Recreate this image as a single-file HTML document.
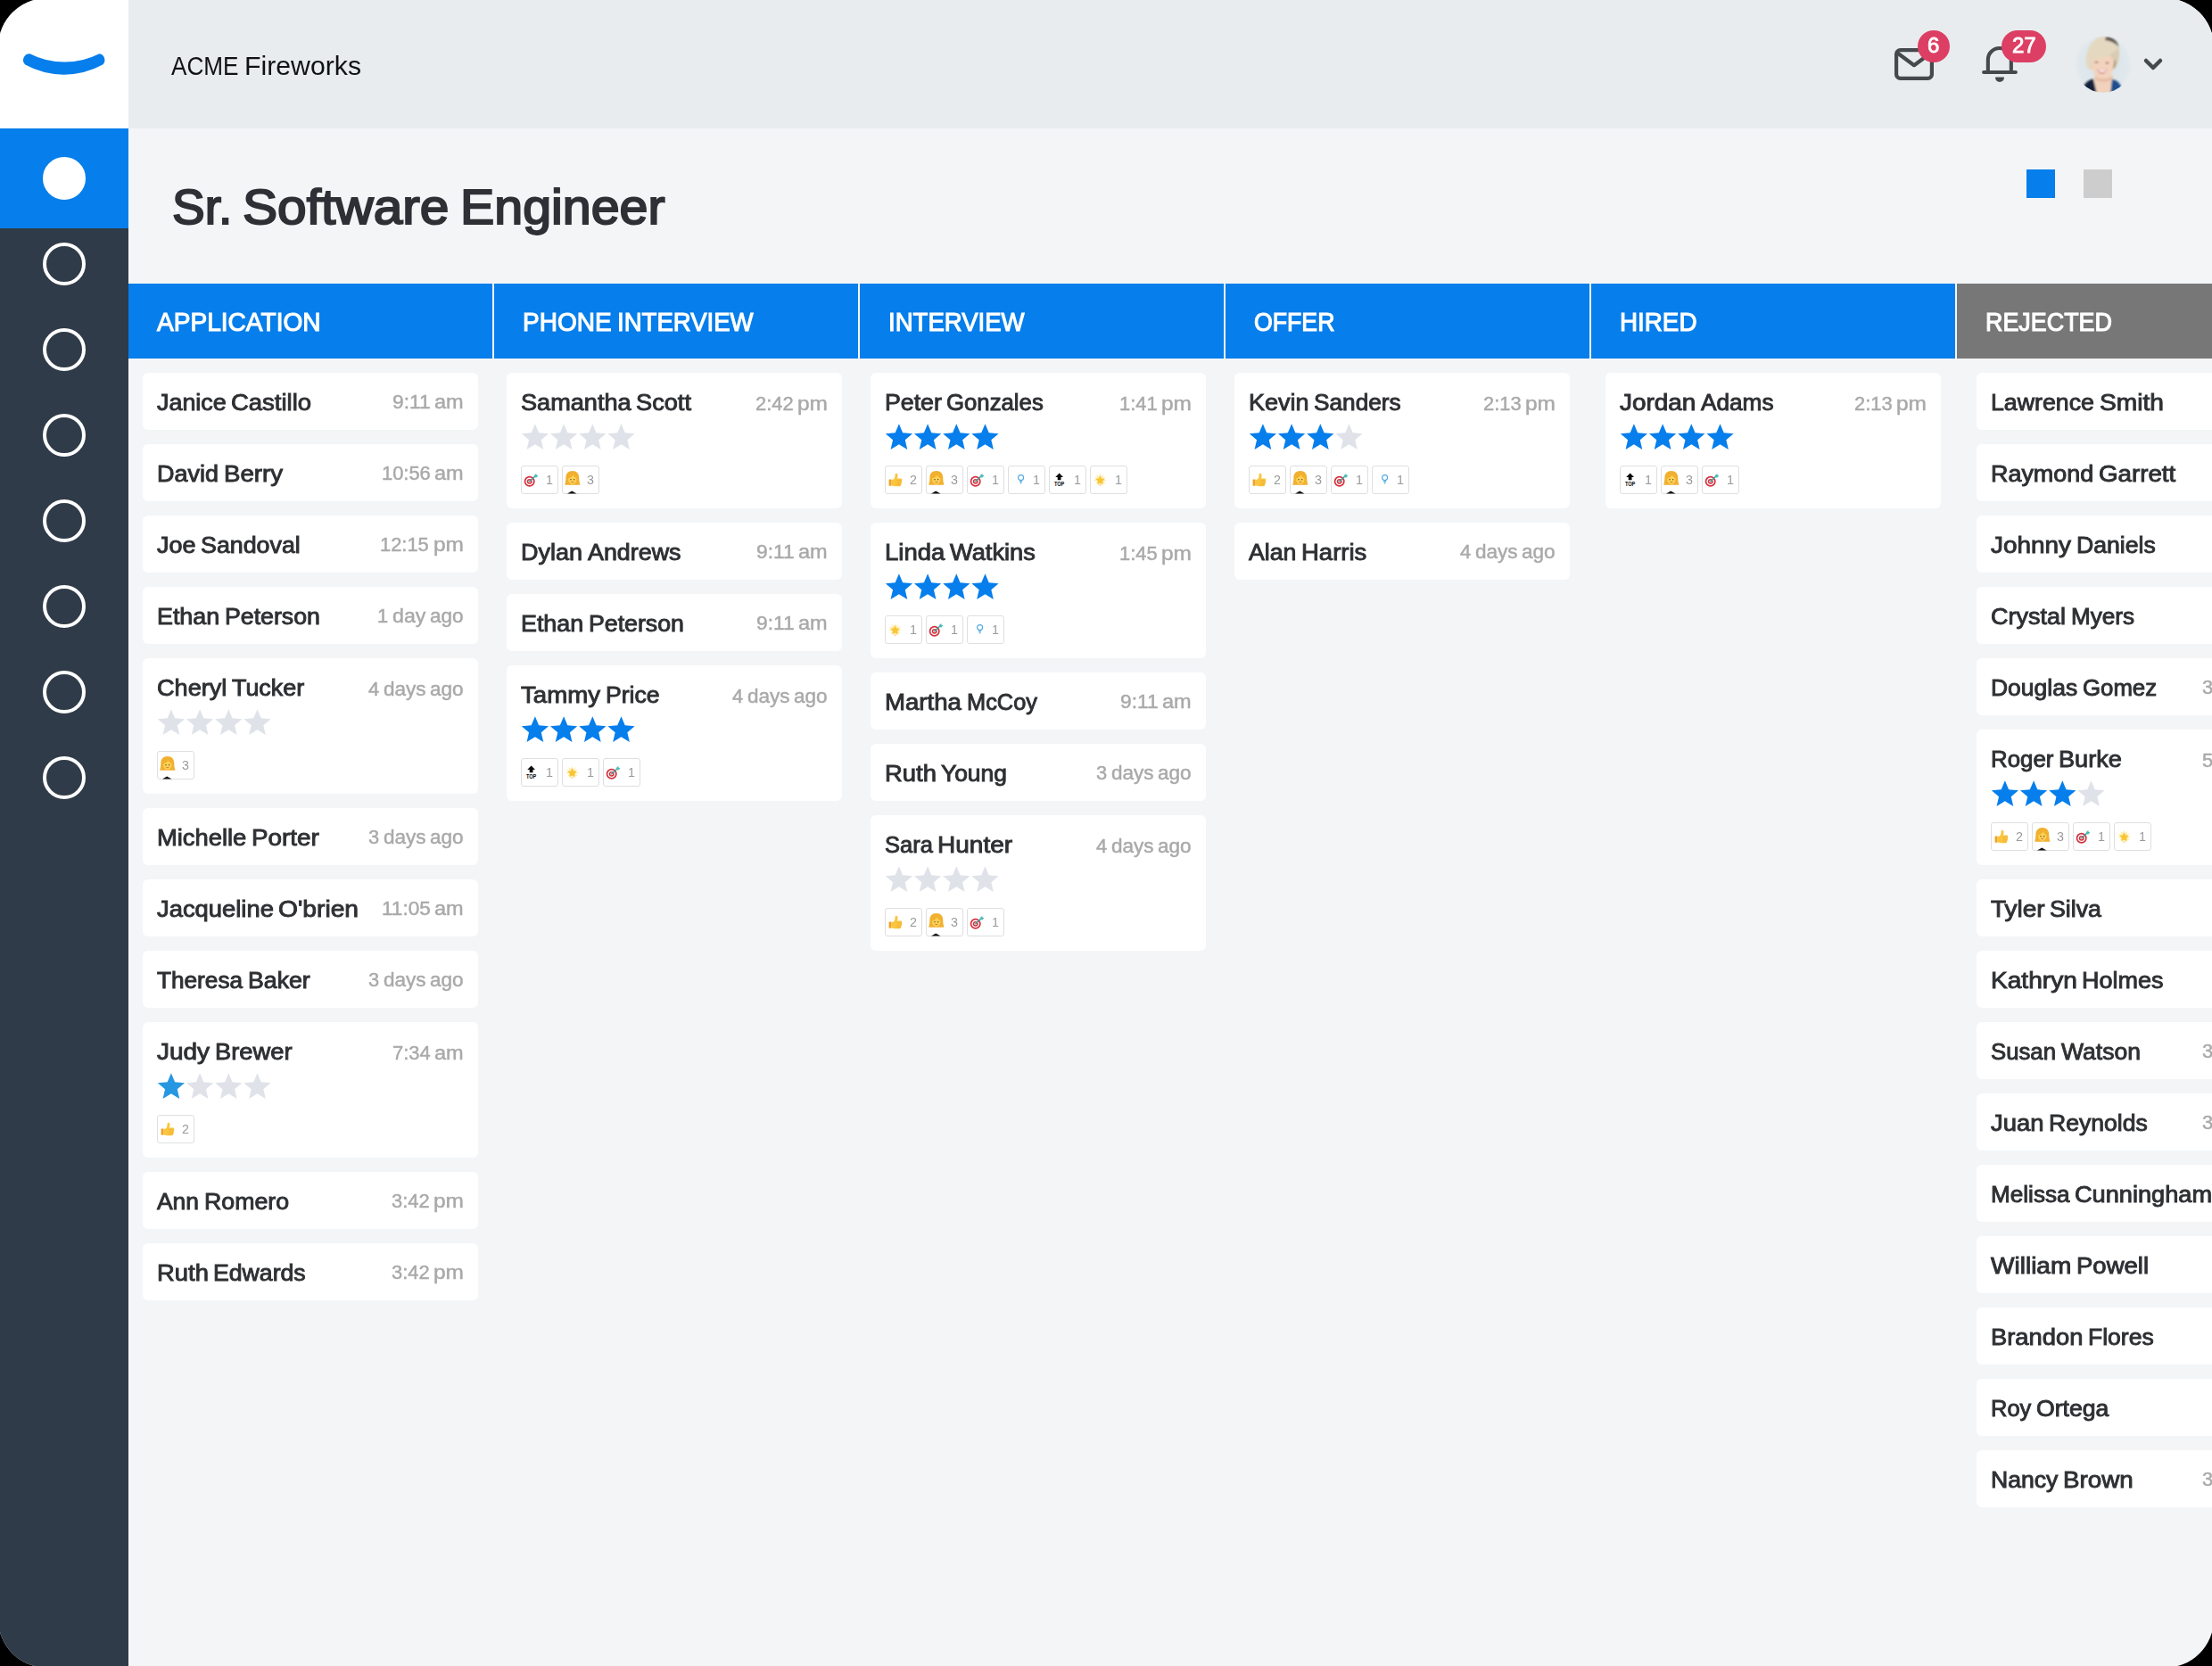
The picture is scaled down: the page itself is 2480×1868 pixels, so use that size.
<!DOCTYPE html>
<html lang="en"><head><meta charset="utf-8"><title>Sr. Software Engineer - ACME Fireworks</title>
<style>
html,body{margin:0;padding:0;background:#000;}
body{width:2480px;height:1868px;overflow:hidden;font-family:"Liberation Sans",sans-serif;}
#app{position:absolute;left:0;top:0;width:2480px;height:1868px;overflow:hidden;clip-path:inset(-2px round 54.600px);background:#f3f5f7;}
.w{display:inline-block;white-space:nowrap;text-align:left;}
.t{display:inline-block;white-space:nowrap;transform-origin:0 50%;}
#side{position:absolute;left:0;top:0;width:144px;height:1868px;background:#2f3b48;}
#logo{position:absolute;left:0;top:0;width:144px;height:144px;background:#fff;}
#side .act{position:absolute;left:0;top:144px;width:144px;height:112px;background:#067eeb;}
#side .dot{position:absolute;left:48px;width:40px;height:40px;border:4px solid #fff;border-radius:50%;}
#side .dot.on{background:#fff;}
#top{position:absolute;left:144px;top:0;width:2336px;height:144px;background:#e8ecef;}
#brand{position:absolute;left:48px;top:53.95px;font-size:29.0px;font-weight:normal;word-spacing:-1.66px;line-height:40px;color:#101216;white-space:nowrap;}
.bdg{position:absolute;top:34px;height:36px;border-radius:18px;background:#dc3f63;color:#fff;font-size:24.5px;font-weight:normal;word-spacing:-1.59px;-webkit-text-stroke:0.9px currentColor;line-height:34px;text-align:center;}
h1{position:absolute;left:193px;top:197.44px;margin:0;font-size:55.0px;font-weight:normal;word-spacing:-3.28px;-webkit-text-stroke:2.0px currentColor;line-height:70px;color:#2e3035;white-space:nowrap;}
.sq{position:absolute;top:190px;width:32px;height:32px;}
.hd{position:absolute;top:318px;height:84px;background:#067eeb;color:#fff;}
.hd div{position:absolute;left:32px;top:23.05px;font-size:29.0px;font-weight:normal;word-spacing:-1.66px;-webkit-text-stroke:1.1px currentColor;line-height:40px;white-space:nowrap;}
.c{position:absolute;width:376px;height:64px;background:#fff;border-radius:6px;}
.c.b{height:152px;}
.nm{position:absolute;left:16px;top:15.74px;font-size:25.0px;font-weight:normal;word-spacing:-1.36px;-webkit-text-stroke:0.9px currentColor;line-height:34px;color:#2e3033;white-space:nowrap;}
.tm{position:absolute;right:16px;top:17.68px;font-size:22.0px;font-weight:normal;word-spacing:-1.22px;-webkit-text-stroke:0.45px currentColor;line-height:30px;color:#a9a9a9;white-space:nowrap;}
.c.b .tm{margin-top:2px;}
.st{position:absolute;left:16px;top:56px;width:132px;height:32px;}
.tags{position:absolute;left:16px;top:104px;height:32px;}
.tg{position:absolute;top:0;width:40px;height:30px;border:1px solid #dedfe1;border-radius:3px;background:#fff;}
.tg .ic{position:absolute;left:3px;top:7px;width:16px;height:16px;}
.tg b{position:absolute;left:24px;top:4.500px;width:14px;text-align:center;font-size:15.5px;font-weight:normal;word-spacing:-1.11px;line-height:20px;color:#9a9a9a;}

</style></head><body>
<div id="app">
<div id="top"><div id="brand"><span class="w" style="width:75.47px"><span class="t" style="transform:scaleX(0.901)">ACME</span></span> <span class="w" style="width:131.09px"><span class="t" style="transform:scaleX(1.043)">Fireworks</span></span></div>
<svg style="position:absolute;left:1976px;top:50px" width="52" height="44" viewBox="0 0 52 44"><rect x="6.100" y="6.100" width="39.800" height="31.800" rx="4.500" fill="none" stroke="#45484d" stroke-width="4.200"/><path d="M7.500 9.500l18.500 13.700 18.500-13.700" fill="none" stroke="#45484d" stroke-width="4.200" stroke-linejoin="round" stroke-linecap="round"/></svg>
<div class="bdg" style="left:2006px;width:36px"><span class="w" style="width:13.37px"><span class="t" style="transform:scaleX(0.980)">6</span></span></div>
<svg style="position:absolute;left:2074px;top:48px" width="48" height="48" viewBox="0 0 48 48"><path d="M6.100 33H41.900M10.850 33V18.950A13 13 0 0 1 36.850 18.950V33" fill="none" stroke="#45484d" stroke-width="4.100" stroke-linecap="round" stroke-linejoin="round"/><path d="M19.800 38.500h8.400c.5 0 .9.400.8 1-.4 2.600-2.300 4.400-5 4.400s-4.600-1.800-5-4.400c-.1-.6.300-1 .8-1z" fill="#45484d"/></svg>
<div class="bdg" style="left:2100px;width:50px"><span class="w" style="width:26.72px"><span class="t" style="transform:scaleX(0.980)">27</span></span></div>
<svg style="position:absolute;left:2182px;top:39.5px" width="64" height="64" viewBox="0 0 64 64"><defs><clipPath id="av"><circle cx="32" cy="32" r="31.8"/></clipPath><filter id="bl" x="-10%" y="-10%" width="120%" height="120%"><feGaussianBlur stdDeviation="0.8"/></filter><radialGradient id="ag" cx="50%" cy="50%" r="50%"><stop offset="0" stop-color="#d9e5ea"/><stop offset=".85" stop-color="#dfe8ec"/><stop offset="1" stop-color="#e6ebee"/></radialGradient></defs><circle cx="32" cy="32" r="31.8" fill="url(#ag)"/><g clip-path="url(#av)"><g filter="url(#bl)"><path d="M22 44h21v23H22z" fill="#f2d2bc"/><path d="M7 66Q9 51 21 48.500L25 66z" fill="#18233d"/><path d="M40 66l2-17.500Q52 51 56 66z" fill="#1f4f90"/><path d="M14 30C12 12 22 1 34 1s17 10 16 22c-.5 6-2 11-5 14H19c-3-1-4.500-3-5-7z" fill="#d9ccb2"/><ellipse cx="31.500" cy="33" rx="12.500" ry="14.500" fill="#f3d3bd"/><path d="M23 46q9 5 19 0l.5 3q-10 6-20 0z" fill="#e6bca6"/><path d="M48 15C41 22 29 26.500 20 27.500c-1.500 4-2 8-2.500 11.500C13 37 12 29 13 23 15 9 24 1 34 1c9 0 15 6 14 14z" fill="#e4d9c0"/><path d="M35 1.500c7-.5 13 4 14.500 11C45 8 40 5.500 34 5z" fill="#5e564d"/><path d="M45.500 26c1 4 0 9-2.500 12 .8-4 1.200-8 2.500-12z" fill="#8a765e"/><ellipse cx="24.500" cy="29.800" rx="2.200" ry=".8" fill="#7a5848"/><ellipse cx="36.500" cy="30.600" rx="2.200" ry=".8" fill="#7a5848"/><path d="M25 37.500c4 1.500 8 1.500 11.500-.5-1 4-3.500 6-6 6s-4.500-2-5.500-5.500z" fill="#dc9497"/><path d="M26.500 38.200c3 1 6 1 9-.3-.8 1.800-2.500 2.800-4.700 2.800s-3.500-.9-4.300-2.500z" fill="#fff"/></g></g></svg>
<svg style="position:absolute;left:2258px;top:62px" width="24" height="20" viewBox="0 0 24 20"><path d="M4 6l8 8 8-8" fill="none" stroke="#45484d" stroke-width="4.500" stroke-linecap="round" stroke-linejoin="round"/></svg>
</div>
<div id="side"><div id="logo"><svg width="144" height="144" viewBox="0 0 144 144"><path d="M28.300 72.600A90.400 90.400 0 0 0 115.100 72.600A7.200 7.200 0 0 0 111.300 60.200A85.200 85.200 0 0 1 33.500 60.200A7.200 7.200 0 0 0 28.300 72.600Z" fill="#067eeb"/></svg></div><div class="act"></div>
<div class="dot on" style="top:176px"></div>
<div class="dot" style="top:272px"></div>
<div class="dot" style="top:368px"></div>
<div class="dot" style="top:464px"></div>
<div class="dot" style="top:560px"></div>
<div class="dot" style="top:656px"></div>
<div class="dot" style="top:752px"></div>
<div class="dot" style="top:848px"></div>
</div>
<h1><span class="w" style="width:67.22px"><span class="t" style="transform:scaleX(1.000)">Sr.</span></span> <span class="w" style="width:231.39px"><span class="t" style="transform:scaleX(1.066)">Software</span></span> <span class="w" style="width:229.62px"><span class="t" style="transform:scaleX(1.043)">Engineer</span></span></h1>
<div class="sq" style="left:2272px;background:#067eeb"></div><div class="sq" style="left:2336px;background:#cdcdcd"></div>
<div class="hd" style="left:144px;width:408px;"><div><span class="w" style="width:183.53px"><span class="t" style="transform:scaleX(0.968)">APPLICATION</span></span></div></div>
<div class="hd" style="left:554px;width:408px;"><div><span class="w" style="width:99.66px"><span class="t" style="transform:scaleX(0.966)">PHONE</span></span> <span class="w" style="width:152.55px"><span class="t" style="transform:scaleX(0.950)">INTERVIEW</span></span></div></div>
<div class="hd" style="left:964px;width:408px;"><div><span class="w" style="width:152.55px"><span class="t" style="transform:scaleX(0.950)">INTERVIEW</span></span></div></div>
<div class="hd" style="left:1374px;width:408px;"><div><span class="w" style="width:90.38px"><span class="t" style="transform:scaleX(0.920)">OFFER</span></span></div></div>
<div class="hd" style="left:1784px;width:408px;"><div><span class="w" style="width:86.41px"><span class="t" style="transform:scaleX(0.958)">HIRED</span></span></div></div>
<div class="hd" style="left:2194px;width:286px;background:#777;"><div><span class="w" style="width:141.84px"><span class="t" style="transform:scaleX(0.927)">REJECTED</span></span></div></div>
<div class="c" style="left:160px;top:418px"><div class="nm"><span class="w" style="width:77.75px"><span class="t" style="transform:scaleX(1.076)">Janice</span></span> <span class="w" style="width:90.08px"><span class="t" style="transform:scaleX(1.099)">Castillo</span></span></div><div class="tm"><span class="w" style="width:42.60px"><span class="t" style="transform:scaleX(1.034)">9:11</span></span> <span class="w" style="width:32.64px"><span class="t" style="transform:scaleX(1.068)">am</span></span></div>
</div>
<div class="c" style="left:160px;top:498px"><div class="nm"><span class="w" style="width:68.94px"><span class="t" style="transform:scaleX(1.078)">David</span></span> <span class="w" style="width:66.11px"><span class="t" style="transform:scaleX(1.107)">Berry</span></span></div><div class="tm"><span class="w" style="width:54.78px"><span class="t" style="transform:scaleX(0.995)">10:56</span></span> <span class="w" style="width:32.64px"><span class="t" style="transform:scaleX(1.068)">am</span></span></div>
</div>
<div class="c" style="left:160px;top:578px"><div class="nm"><span class="w" style="width:43.41px"><span class="t" style="transform:scaleX(1.077)">Joe</span></span> <span class="w" style="width:111.73px"><span class="t" style="transform:scaleX(1.072)">Sandoval</span></span></div><div class="tm"><span class="w" style="width:54.78px"><span class="t" style="transform:scaleX(0.995)">12:15</span></span> <span class="w" style="width:33.88px"><span class="t" style="transform:scaleX(1.109)">pm</span></span></div>
</div>
<div class="c" style="left:160px;top:658px"><div class="nm"><span class="w" style="width:70.20px"><span class="t" style="transform:scaleX(1.074)">Ethan</span></span> <span class="w" style="width:106.84px"><span class="t" style="transform:scaleX(1.068)">Peterson</span></span></div><div class="tm"><span class="w" style="width:12.18px"><span class="t" style="transform:scaleX(0.994)">1</span></span> <span class="w" style="width:37.36px"><span class="t" style="transform:scaleX(1.053)">day</span></span> <span class="w" style="width:37.61px"><span class="t" style="transform:scaleX(1.024)">ago</span></span></div>
</div>
<div class="c b" style="left:160px;top:738px"><div class="nm"><span class="w" style="width:78.30px"><span class="t" style="transform:scaleX(1.084)">Cheryl</span></span> <span class="w" style="width:81.17px"><span class="t" style="transform:scaleX(1.075)">Tucker</span></span></div><div class="tm"><span class="w" style="width:12.18px"><span class="t" style="transform:scaleX(0.994)">4</span></span> <span class="w" style="width:47.62px"><span class="t" style="transform:scaleX(1.024)">days</span></span> <span class="w" style="width:37.61px"><span class="t" style="transform:scaleX(1.024)">ago</span></span></div>
<svg class="st" viewBox="0 0 132 32"><polygon points="15.90,1.20 20.13,11.28 31.02,12.19 22.75,19.32 25.25,29.96 15.90,24.30 6.55,29.96 9.05,19.32 0.78,12.19 11.67,11.28" fill="#dfe3e9"/><polygon points="48.10,1.20 52.33,11.28 63.22,12.19 54.95,19.32 57.45,29.96 48.10,24.30 38.75,29.96 41.25,19.32 32.98,12.19 43.87,11.28" fill="#dfe3e9"/><polygon points="80.30,1.20 84.53,11.28 95.42,12.19 87.15,19.32 89.65,29.96 80.30,24.30 70.95,29.96 73.45,19.32 65.18,12.19 76.07,11.28" fill="#dfe3e9"/><polygon points="112.50,1.20 116.73,11.28 127.62,12.19 119.35,19.32 121.85,29.96 112.50,24.30 103.15,29.96 105.65,19.32 97.38,12.19 108.27,11.28" fill="#dfe3e9"/></svg>
<div class="tags">
<div class="tg" style="left:0px"><svg class="ic" viewBox="0 0 16 16" style="overflow:visible"><path d="M7.800-2c4.800 0 7.400 3.200 7.400 7.400 0 3.200.6 6 1.200 8.400H-.8C-.2 11.400.4 8.600.4 5.400.4 1.200 3-2 7.800-2z" fill="#f1b02f"/><ellipse cx="7.800" cy="7.400" rx="4.700" ry="5.500" fill="#fcd255"/><path d="M3 6.400c2.300-.4 4.600-1.800 5.600-3.900.8 1.800 2.200 3.200 4 3.800C12.600 2.600 10.700.5 7.800.5S3 2.700 3 6.400z" fill="#f1b02f"/><circle cx="6" cy="7.700" r=".65" fill="#4a2f1a"/><circle cx="9.700" cy="7.700" r=".65" fill="#4a2f1a"/><path d="M6.700 10.500q1.100.8 2.300 0" fill="none" stroke="#c0553a" stroke-width=".8" stroke-linecap="round"/><path d="M2 23.500l5.200-2.900 5.300 2.900z" fill="#111"/></svg><b><span class="w" style="width:7.95px"><span class="t" style="transform:scaleX(0.922)">3</span></span></b></div>
</div>
</div>
<div class="c" style="left:160px;top:906px"><div class="nm"><span class="w" style="width:100.33px"><span class="t" style="transform:scaleX(1.094)">Michelle</span></span> <span class="w" style="width:75.80px"><span class="t" style="transform:scaleX(1.113)">Porter</span></span></div><div class="tm"><span class="w" style="width:12.18px"><span class="t" style="transform:scaleX(0.994)">3</span></span> <span class="w" style="width:47.62px"><span class="t" style="transform:scaleX(1.024)">days</span></span> <span class="w" style="width:37.61px"><span class="t" style="transform:scaleX(1.024)">ago</span></span></div>
</div>
<div class="c" style="left:160px;top:986px"><div class="nm"><span class="w" style="width:130.89px"><span class="t" style="transform:scaleX(1.095)">Jacqueline</span></span> <span class="w" style="width:90.00px"><span class="t" style="transform:scaleX(1.128)">O&#x27;brien</span></span></div><div class="tm"><span class="w" style="width:54.78px"><span class="t" style="transform:scaleX(1.025)">11:05</span></span> <span class="w" style="width:32.64px"><span class="t" style="transform:scaleX(1.068)">am</span></span></div>
</div>
<div class="c" style="left:160px;top:1066px"><div class="nm"><span class="w" style="width:96.00px"><span class="t" style="transform:scaleX(1.047)">Theresa</span></span> <span class="w" style="width:69.78px"><span class="t" style="transform:scaleX(1.068)">Baker</span></span></div><div class="tm"><span class="w" style="width:12.18px"><span class="t" style="transform:scaleX(0.994)">3</span></span> <span class="w" style="width:47.62px"><span class="t" style="transform:scaleX(1.024)">days</span></span> <span class="w" style="width:37.61px"><span class="t" style="transform:scaleX(1.024)">ago</span></span></div>
</div>
<div class="c b" style="left:160px;top:1146px"><div class="nm"><span class="w" style="width:59.06px"><span class="t" style="transform:scaleX(1.118)">Judy</span></span> <span class="w" style="width:86.48px"><span class="t" style="transform:scaleX(1.092)">Brewer</span></span></div><div class="tm"><span class="w" style="width:42.60px"><span class="t" style="transform:scaleX(0.995)">7:34</span></span> <span class="w" style="width:32.64px"><span class="t" style="transform:scaleX(1.068)">am</span></span></div>
<svg class="st" viewBox="0 0 132 32"><polygon points="15.90,1.20 20.13,11.28 31.02,12.19 22.75,19.32 25.25,29.96 15.90,24.30 6.55,29.96 9.05,19.32 0.78,12.19 11.67,11.28" fill="#2797e2"/><polygon points="48.10,1.20 52.33,11.28 63.22,12.19 54.95,19.32 57.45,29.96 48.10,24.30 38.75,29.96 41.25,19.32 32.98,12.19 43.87,11.28" fill="#dfe3e9"/><polygon points="80.30,1.20 84.53,11.28 95.42,12.19 87.15,19.32 89.65,29.96 80.30,24.30 70.95,29.96 73.45,19.32 65.18,12.19 76.07,11.28" fill="#dfe3e9"/><polygon points="112.50,1.20 116.73,11.28 127.62,12.19 119.35,19.32 121.85,29.96 112.50,24.30 103.15,29.96 105.65,19.32 97.38,12.19 108.27,11.28" fill="#dfe3e9"/></svg>
<div class="tags">
<div class="tg" style="left:0px"><svg class="ic" viewBox="0 0 16 16"><path d="M.6 7.500h2.800v7.200H.6z" fill="#eea22b"/><path d="M6.200 7.200C7.400 5.600 7.600 3.600 7.600 2 7.600.5 9.700.3 10.300 2c.5 1.400.1 3.200-.4 4.400h4.200c1.400 0 1.600 1.800.6 2.300 1 .5.800 2.100-.2 2.400.7.600.4 1.900-.5 2.200.4.800-.2 1.900-1.300 1.900H7.600c-2 0-3-.8-4.400-1V7.800c1.200 0 2.200 0 3-.6z" fill="#fac53f"/><path d="M9.900 8.700h4.600M9.900 11.100h4.300M9.900 13.300h3.700" stroke="#eea22b" stroke-width=".6" stroke-linecap="round"/></svg><b><span class="w" style="width:7.95px"><span class="t" style="transform:scaleX(0.922)">2</span></span></b></div>
</div>
</div>
<div class="c" style="left:160px;top:1314px"><div class="nm"><span class="w" style="width:46.98px"><span class="t" style="transform:scaleX(1.056)">Ann</span></span> <span class="w" style="width:95.02px"><span class="t" style="transform:scaleX(1.069)">Romero</span></span></div><div class="tm"><span class="w" style="width:42.60px"><span class="t" style="transform:scaleX(0.995)">3:42</span></span> <span class="w" style="width:33.88px"><span class="t" style="transform:scaleX(1.109)">pm</span></span></div>
</div>
<div class="c" style="left:160px;top:1394px"><div class="nm"><span class="w" style="width:57.89px"><span class="t" style="transform:scaleX(1.096)">Ruth</span></span> <span class="w" style="width:103.72px"><span class="t" style="transform:scaleX(1.066)">Edwards</span></span></div><div class="tm"><span class="w" style="width:42.60px"><span class="t" style="transform:scaleX(0.995)">3:42</span></span> <span class="w" style="width:33.88px"><span class="t" style="transform:scaleX(1.109)">pm</span></span></div>
</div>
<div class="c b" style="left:568px;top:418px"><div class="nm"><span class="w" style="width:123.62px"><span class="t" style="transform:scaleX(1.085)">Samantha</span></span> <span class="w" style="width:61.94px"><span class="t" style="transform:scaleX(1.087)">Scott</span></span></div><div class="tm"><span class="w" style="width:42.60px"><span class="t" style="transform:scaleX(0.995)">2:42</span></span> <span class="w" style="width:33.88px"><span class="t" style="transform:scaleX(1.109)">pm</span></span></div>
<svg class="st" viewBox="0 0 132 32"><polygon points="15.90,1.20 20.13,11.28 31.02,12.19 22.75,19.32 25.25,29.96 15.90,24.30 6.55,29.96 9.05,19.32 0.78,12.19 11.67,11.28" fill="#dfe3e9"/><polygon points="48.10,1.20 52.33,11.28 63.22,12.19 54.95,19.32 57.45,29.96 48.10,24.30 38.75,29.96 41.25,19.32 32.98,12.19 43.87,11.28" fill="#dfe3e9"/><polygon points="80.30,1.20 84.53,11.28 95.42,12.19 87.15,19.32 89.65,29.96 80.30,24.30 70.95,29.96 73.45,19.32 65.18,12.19 76.07,11.28" fill="#dfe3e9"/><polygon points="112.50,1.20 116.73,11.28 127.62,12.19 119.35,19.32 121.85,29.96 112.50,24.30 103.15,29.96 105.65,19.32 97.38,12.19 108.27,11.28" fill="#dfe3e9"/></svg>
<div class="tags">
<div class="tg" style="left:0px"><svg class="ic" viewBox="0 0 16 16" style="overflow:visible"><circle cx="5.700" cy="9.800" r="6" fill="#d42f3c"/><circle cx="5.700" cy="9.800" r="4.300" fill="#fff"/><circle cx="5.700" cy="9.800" r="2.900" fill="#d42f3c"/><circle cx="5.700" cy="9.800" r="1.400" fill="#fff"/><path d="M5.700 9.800L12.600 3.200" stroke="#3a9d98" stroke-width="1.300" stroke-linecap="round"/><path d="M10.900 3l2.300-2 .4 1.800 1.800.4-2 2.300-2.300-.2z" fill="#4dbcb3"/></svg><b><span class="w" style="width:7.95px"><span class="t" style="transform:scaleX(0.922)">1</span></span></b></div>
<div class="tg" style="left:46px"><svg class="ic" viewBox="0 0 16 16" style="overflow:visible"><path d="M7.800-2c4.800 0 7.400 3.200 7.400 7.400 0 3.200.6 6 1.200 8.400H-.8C-.2 11.400.4 8.600.4 5.400.4 1.200 3-2 7.800-2z" fill="#f1b02f"/><ellipse cx="7.800" cy="7.400" rx="4.700" ry="5.500" fill="#fcd255"/><path d="M3 6.400c2.300-.4 4.600-1.800 5.600-3.900.8 1.800 2.200 3.200 4 3.800C12.600 2.600 10.700.5 7.800.5S3 2.700 3 6.400z" fill="#f1b02f"/><circle cx="6" cy="7.700" r=".65" fill="#4a2f1a"/><circle cx="9.700" cy="7.700" r=".65" fill="#4a2f1a"/><path d="M6.700 10.500q1.100.8 2.300 0" fill="none" stroke="#c0553a" stroke-width=".8" stroke-linecap="round"/><path d="M2 23.500l5.200-2.900 5.300 2.900z" fill="#111"/></svg><b><span class="w" style="width:7.95px"><span class="t" style="transform:scaleX(0.922)">3</span></span></b></div>
</div>
</div>
<div class="c" style="left:568px;top:586px"><div class="nm"><span class="w" style="width:69.08px"><span class="t" style="transform:scaleX(1.081)">Dylan</span></span> <span class="w" style="width:104.47px"><span class="t" style="transform:scaleX(1.074)">Andrews</span></span></div><div class="tm"><span class="w" style="width:42.60px"><span class="t" style="transform:scaleX(1.034)">9:11</span></span> <span class="w" style="width:32.64px"><span class="t" style="transform:scaleX(1.068)">am</span></span></div>
</div>
<div class="c" style="left:568px;top:666px"><div class="nm"><span class="w" style="width:70.20px"><span class="t" style="transform:scaleX(1.074)">Ethan</span></span> <span class="w" style="width:106.84px"><span class="t" style="transform:scaleX(1.068)">Peterson</span></span></div><div class="tm"><span class="w" style="width:42.60px"><span class="t" style="transform:scaleX(1.034)">9:11</span></span> <span class="w" style="width:32.64px"><span class="t" style="transform:scaleX(1.068)">am</span></span></div>
</div>
<div class="c b" style="left:568px;top:746px"><div class="nm"><span class="w" style="width:88.91px"><span class="t" style="transform:scaleX(1.104)">Tammy</span></span> <span class="w" style="width:60.53px"><span class="t" style="transform:scaleX(1.063)">Price</span></span></div><div class="tm"><span class="w" style="width:12.18px"><span class="t" style="transform:scaleX(0.994)">4</span></span> <span class="w" style="width:47.62px"><span class="t" style="transform:scaleX(1.024)">days</span></span> <span class="w" style="width:37.61px"><span class="t" style="transform:scaleX(1.024)">ago</span></span></div>
<svg class="st" viewBox="0 0 132 32"><polygon points="15.90,1.20 20.13,11.28 31.02,12.19 22.75,19.32 25.25,29.96 15.90,24.30 6.55,29.96 9.05,19.32 0.78,12.19 11.67,11.28" fill="#067eeb"/><polygon points="48.10,1.20 52.33,11.28 63.22,12.19 54.95,19.32 57.45,29.96 48.10,24.30 38.75,29.96 41.25,19.32 32.98,12.19 43.87,11.28" fill="#067eeb"/><polygon points="80.30,1.20 84.53,11.28 95.42,12.19 87.15,19.32 89.65,29.96 80.30,24.30 70.95,29.96 73.45,19.32 65.18,12.19 76.07,11.28" fill="#067eeb"/><polygon points="112.50,1.20 116.73,11.28 127.62,12.19 119.35,19.32 121.85,29.96 112.50,24.30 103.15,29.96 105.65,19.32 97.38,12.19 108.27,11.28" fill="#067eeb"/></svg>
<div class="tags">
<div class="tg" style="left:0px"><svg class="ic" viewBox="0 0 16 16"><path d="M7.600.5l4.400 4.500H9.500v3.200H5.700V5H3.200z" fill="#0b0b0b"/><text x="7.600" y="15" text-anchor="middle" font-family="Liberation Sans, sans-serif" font-weight="bold" font-size="6.400" fill="#0b0b0b" textLength="11.400" lengthAdjust="spacingAndGlyphs">TOP</text></svg><b><span class="w" style="width:7.95px"><span class="t" style="transform:scaleX(0.922)">1</span></span></b></div>
<div class="tg" style="left:46px"><svg class="ic" viewBox="0 0 16 16" style="overflow:visible"><path d="M7.500.6l1 3.300 2.900-2-1 3.300 3.600-.5-2.600 2.500L15.300 8.400l-3.500 1.100 2.100 3-3.400-1 .2 3.600-2.700-2.500-2.700 2.500.2-3.600-3.400 1 2.100-3L-.7 8.400l3.900-1.200L.6 4.700l3.600.5-1-3.300 2.900 2z" fill="#fdeeb5"/><path d="M7.500 3.300l1.600 3.300 3.600.5-2.600 2.500.6 3.600-3.200-1.700-3.200 1.700.6-3.600L2.300 7.100l3.600-.5z" fill="#f8c534"/><path d="M6.700 13.600h1.600l-.8 1.800z" fill="#f3b63a"/></svg><b><span class="w" style="width:7.95px"><span class="t" style="transform:scaleX(0.922)">1</span></span></b></div>
<div class="tg" style="left:92px"><svg class="ic" viewBox="0 0 16 16" style="overflow:visible"><circle cx="5.700" cy="9.800" r="6" fill="#d42f3c"/><circle cx="5.700" cy="9.800" r="4.300" fill="#fff"/><circle cx="5.700" cy="9.800" r="2.900" fill="#d42f3c"/><circle cx="5.700" cy="9.800" r="1.400" fill="#fff"/><path d="M5.700 9.800L12.600 3.200" stroke="#3a9d98" stroke-width="1.300" stroke-linecap="round"/><path d="M10.900 3l2.300-2 .4 1.800 1.800.4-2 2.300-2.300-.2z" fill="#4dbcb3"/></svg><b><span class="w" style="width:7.95px"><span class="t" style="transform:scaleX(0.922)">1</span></span></b></div>
</div>
</div>
<div class="c b" style="left:976px;top:418px"><div class="nm"><span class="w" style="width:63.89px"><span class="t" style="transform:scaleX(1.069)">Peter</span></span> <span class="w" style="width:108.84px"><span class="t" style="transform:scaleX(1.030)">Gonzales</span></span></div><div class="tm"><span class="w" style="width:42.60px"><span class="t" style="transform:scaleX(0.995)">1:41</span></span> <span class="w" style="width:33.88px"><span class="t" style="transform:scaleX(1.109)">pm</span></span></div>
<svg class="st" viewBox="0 0 132 32"><polygon points="15.90,1.20 20.13,11.28 31.02,12.19 22.75,19.32 25.25,29.96 15.90,24.30 6.55,29.96 9.05,19.32 0.78,12.19 11.67,11.28" fill="#067eeb"/><polygon points="48.10,1.20 52.33,11.28 63.22,12.19 54.95,19.32 57.45,29.96 48.10,24.30 38.75,29.96 41.25,19.32 32.98,12.19 43.87,11.28" fill="#067eeb"/><polygon points="80.30,1.20 84.53,11.28 95.42,12.19 87.15,19.32 89.65,29.96 80.30,24.30 70.95,29.96 73.45,19.32 65.18,12.19 76.07,11.28" fill="#067eeb"/><polygon points="112.50,1.20 116.73,11.28 127.62,12.19 119.35,19.32 121.85,29.96 112.50,24.30 103.15,29.96 105.65,19.32 97.38,12.19 108.27,11.28" fill="#067eeb"/></svg>
<div class="tags">
<div class="tg" style="left:0px"><svg class="ic" viewBox="0 0 16 16"><path d="M.6 7.500h2.800v7.200H.6z" fill="#eea22b"/><path d="M6.200 7.200C7.400 5.600 7.600 3.600 7.600 2 7.600.5 9.700.3 10.300 2c.5 1.400.1 3.200-.4 4.400h4.200c1.400 0 1.600 1.800.6 2.300 1 .5.800 2.100-.2 2.400.7.600.4 1.900-.5 2.200.4.800-.2 1.900-1.300 1.900H7.600c-2 0-3-.8-4.400-1V7.800c1.200 0 2.200 0 3-.6z" fill="#fac53f"/><path d="M9.900 8.700h4.600M9.900 11.100h4.300M9.900 13.300h3.700" stroke="#eea22b" stroke-width=".6" stroke-linecap="round"/></svg><b><span class="w" style="width:7.95px"><span class="t" style="transform:scaleX(0.922)">2</span></span></b></div>
<div class="tg" style="left:46px"><svg class="ic" viewBox="0 0 16 16" style="overflow:visible"><path d="M7.800-2c4.800 0 7.400 3.200 7.400 7.400 0 3.200.6 6 1.200 8.400H-.8C-.2 11.400.4 8.600.4 5.400.4 1.200 3-2 7.800-2z" fill="#f1b02f"/><ellipse cx="7.800" cy="7.400" rx="4.700" ry="5.500" fill="#fcd255"/><path d="M3 6.400c2.300-.4 4.600-1.800 5.600-3.900.8 1.800 2.200 3.200 4 3.800C12.600 2.600 10.700.5 7.800.5S3 2.700 3 6.400z" fill="#f1b02f"/><circle cx="6" cy="7.700" r=".65" fill="#4a2f1a"/><circle cx="9.700" cy="7.700" r=".65" fill="#4a2f1a"/><path d="M6.700 10.500q1.100.8 2.300 0" fill="none" stroke="#c0553a" stroke-width=".8" stroke-linecap="round"/><path d="M2 23.500l5.200-2.900 5.300 2.900z" fill="#111"/></svg><b><span class="w" style="width:7.95px"><span class="t" style="transform:scaleX(0.922)">3</span></span></b></div>
<div class="tg" style="left:92px"><svg class="ic" viewBox="0 0 16 16" style="overflow:visible"><circle cx="5.700" cy="9.800" r="6" fill="#d42f3c"/><circle cx="5.700" cy="9.800" r="4.300" fill="#fff"/><circle cx="5.700" cy="9.800" r="2.900" fill="#d42f3c"/><circle cx="5.700" cy="9.800" r="1.400" fill="#fff"/><path d="M5.700 9.800L12.600 3.200" stroke="#3a9d98" stroke-width="1.300" stroke-linecap="round"/><path d="M10.900 3l2.300-2 .4 1.800 1.800.4-2 2.300-2.300-.2z" fill="#4dbcb3"/></svg><b><span class="w" style="width:7.95px"><span class="t" style="transform:scaleX(0.922)">1</span></span></b></div>
<div class="tg" style="left:138px"><svg class="ic" viewBox="0 0 16 16"><circle cx="10.600" cy="5.600" r="3" fill="#fff" stroke="#4fa9e2" stroke-width="1.100"/><path d="M9.400 9.700h2.400M9.700 10.900h1.800" stroke="#4fa9e2" stroke-width=".9" stroke-linecap="round"/><path d="M9.800 11.600h1.600l-.8 1.300z" fill="#4fa9e2"/></svg><b><span class="w" style="width:7.95px"><span class="t" style="transform:scaleX(0.922)">1</span></span></b></div>
<div class="tg" style="left:184px"><svg class="ic" viewBox="0 0 16 16"><path d="M7.600.5l4.400 4.500H9.500v3.200H5.700V5H3.200z" fill="#0b0b0b"/><text x="7.600" y="15" text-anchor="middle" font-family="Liberation Sans, sans-serif" font-weight="bold" font-size="6.400" fill="#0b0b0b" textLength="11.400" lengthAdjust="spacingAndGlyphs">TOP</text></svg><b><span class="w" style="width:7.95px"><span class="t" style="transform:scaleX(0.922)">1</span></span></b></div>
<div class="tg" style="left:230px"><svg class="ic" viewBox="0 0 16 16" style="overflow:visible"><path d="M7.500.6l1 3.300 2.900-2-1 3.300 3.600-.5-2.600 2.500L15.300 8.400l-3.500 1.100 2.100 3-3.400-1 .2 3.600-2.700-2.500-2.700 2.500.2-3.600-3.400 1 2.100-3L-.7 8.400l3.900-1.200L.6 4.700l3.600.5-1-3.300 2.900 2z" fill="#fdeeb5"/><path d="M7.500 3.300l1.600 3.300 3.600.5-2.600 2.500.6 3.600-3.200-1.700-3.200 1.700.6-3.600L2.300 7.100l3.600-.5z" fill="#f8c534"/><path d="M6.700 13.600h1.600l-.8 1.800z" fill="#f3b63a"/></svg><b><span class="w" style="width:7.95px"><span class="t" style="transform:scaleX(0.922)">1</span></span></b></div>
</div>
</div>
<div class="c b" style="left:976px;top:586px"><div class="nm"><span class="w" style="width:67.31px"><span class="t" style="transform:scaleX(1.100)">Linda</span></span> <span class="w" style="width:95.83px"><span class="t" style="transform:scaleX(1.089)">Watkins</span></span></div><div class="tm"><span class="w" style="width:42.60px"><span class="t" style="transform:scaleX(0.995)">1:45</span></span> <span class="w" style="width:33.88px"><span class="t" style="transform:scaleX(1.109)">pm</span></span></div>
<svg class="st" viewBox="0 0 132 32"><polygon points="15.90,1.20 20.13,11.28 31.02,12.19 22.75,19.32 25.25,29.96 15.90,24.30 6.55,29.96 9.05,19.32 0.78,12.19 11.67,11.28" fill="#067eeb"/><polygon points="48.10,1.20 52.33,11.28 63.22,12.19 54.95,19.32 57.45,29.96 48.10,24.30 38.75,29.96 41.25,19.32 32.98,12.19 43.87,11.28" fill="#067eeb"/><polygon points="80.30,1.20 84.53,11.28 95.42,12.19 87.15,19.32 89.65,29.96 80.30,24.30 70.95,29.96 73.45,19.32 65.18,12.19 76.07,11.28" fill="#067eeb"/><polygon points="112.50,1.20 116.73,11.28 127.62,12.19 119.35,19.32 121.85,29.96 112.50,24.30 103.15,29.96 105.65,19.32 97.38,12.19 108.27,11.28" fill="#067eeb"/></svg>
<div class="tags">
<div class="tg" style="left:0px"><svg class="ic" viewBox="0 0 16 16" style="overflow:visible"><path d="M7.500.6l1 3.300 2.900-2-1 3.300 3.600-.5-2.600 2.500L15.300 8.400l-3.500 1.100 2.100 3-3.400-1 .2 3.600-2.700-2.500-2.700 2.500.2-3.600-3.400 1 2.100-3L-.7 8.400l3.900-1.200L.6 4.700l3.600.5-1-3.300 2.900 2z" fill="#fdeeb5"/><path d="M7.500 3.300l1.600 3.300 3.600.5-2.600 2.500.6 3.600-3.200-1.700-3.200 1.700.6-3.600L2.300 7.100l3.600-.5z" fill="#f8c534"/><path d="M6.700 13.600h1.600l-.8 1.800z" fill="#f3b63a"/></svg><b><span class="w" style="width:7.95px"><span class="t" style="transform:scaleX(0.922)">1</span></span></b></div>
<div class="tg" style="left:46px"><svg class="ic" viewBox="0 0 16 16" style="overflow:visible"><circle cx="5.700" cy="9.800" r="6" fill="#d42f3c"/><circle cx="5.700" cy="9.800" r="4.300" fill="#fff"/><circle cx="5.700" cy="9.800" r="2.900" fill="#d42f3c"/><circle cx="5.700" cy="9.800" r="1.400" fill="#fff"/><path d="M5.700 9.800L12.600 3.200" stroke="#3a9d98" stroke-width="1.300" stroke-linecap="round"/><path d="M10.900 3l2.300-2 .4 1.800 1.800.4-2 2.300-2.300-.2z" fill="#4dbcb3"/></svg><b><span class="w" style="width:7.95px"><span class="t" style="transform:scaleX(0.922)">1</span></span></b></div>
<div class="tg" style="left:92px"><svg class="ic" viewBox="0 0 16 16"><circle cx="10.600" cy="5.600" r="3" fill="#fff" stroke="#4fa9e2" stroke-width="1.100"/><path d="M9.400 9.700h2.400M9.700 10.900h1.800" stroke="#4fa9e2" stroke-width=".9" stroke-linecap="round"/><path d="M9.800 11.600h1.600l-.8 1.300z" fill="#4fa9e2"/></svg><b><span class="w" style="width:7.95px"><span class="t" style="transform:scaleX(0.922)">1</span></span></b></div>
</div>
</div>
<div class="c" style="left:976px;top:754px"><div class="nm"><span class="w" style="width:85.94px"><span class="t" style="transform:scaleX(1.104)">Martha</span></span> <span class="w" style="width:79.00px"><span class="t" style="transform:scaleX(1.015)">McCoy</span></span></div><div class="tm"><span class="w" style="width:42.60px"><span class="t" style="transform:scaleX(1.034)">9:11</span></span> <span class="w" style="width:32.64px"><span class="t" style="transform:scaleX(1.068)">am</span></span></div>
</div>
<div class="c" style="left:976px;top:834px"><div class="nm"><span class="w" style="width:57.89px"><span class="t" style="transform:scaleX(1.096)">Ruth</span></span> <span class="w" style="width:73.88px"><span class="t" style="transform:scaleX(1.055)">Young</span></span></div><div class="tm"><span class="w" style="width:12.18px"><span class="t" style="transform:scaleX(0.994)">3</span></span> <span class="w" style="width:47.62px"><span class="t" style="transform:scaleX(1.024)">days</span></span> <span class="w" style="width:37.61px"><span class="t" style="transform:scaleX(1.024)">ago</span></span></div>
</div>
<div class="c b" style="left:976px;top:914px"><div class="nm"><span class="w" style="width:53.88px"><span class="t" style="transform:scaleX(1.020)">Sara</span></span> <span class="w" style="width:84.12px"><span class="t" style="transform:scaleX(1.121)">Hunter</span></span></div><div class="tm"><span class="w" style="width:12.18px"><span class="t" style="transform:scaleX(0.994)">4</span></span> <span class="w" style="width:47.62px"><span class="t" style="transform:scaleX(1.024)">days</span></span> <span class="w" style="width:37.61px"><span class="t" style="transform:scaleX(1.024)">ago</span></span></div>
<svg class="st" viewBox="0 0 132 32"><polygon points="15.90,1.20 20.13,11.28 31.02,12.19 22.75,19.32 25.25,29.96 15.90,24.30 6.55,29.96 9.05,19.32 0.78,12.19 11.67,11.28" fill="#dfe3e9"/><polygon points="48.10,1.20 52.33,11.28 63.22,12.19 54.95,19.32 57.45,29.96 48.10,24.30 38.75,29.96 41.25,19.32 32.98,12.19 43.87,11.28" fill="#dfe3e9"/><polygon points="80.30,1.20 84.53,11.28 95.42,12.19 87.15,19.32 89.65,29.96 80.30,24.30 70.95,29.96 73.45,19.32 65.18,12.19 76.07,11.28" fill="#dfe3e9"/><polygon points="112.50,1.20 116.73,11.28 127.62,12.19 119.35,19.32 121.85,29.96 112.50,24.30 103.15,29.96 105.65,19.32 97.38,12.19 108.27,11.28" fill="#dfe3e9"/></svg>
<div class="tags">
<div class="tg" style="left:0px"><svg class="ic" viewBox="0 0 16 16"><path d="M.6 7.500h2.800v7.200H.6z" fill="#eea22b"/><path d="M6.200 7.200C7.400 5.600 7.600 3.600 7.600 2 7.600.5 9.700.3 10.300 2c.5 1.400.1 3.200-.4 4.400h4.200c1.400 0 1.600 1.800.6 2.300 1 .5.800 2.100-.2 2.400.7.600.4 1.900-.5 2.200.4.800-.2 1.900-1.300 1.900H7.600c-2 0-3-.8-4.400-1V7.800c1.200 0 2.200 0 3-.6z" fill="#fac53f"/><path d="M9.900 8.700h4.600M9.900 11.100h4.300M9.900 13.300h3.700" stroke="#eea22b" stroke-width=".6" stroke-linecap="round"/></svg><b><span class="w" style="width:7.95px"><span class="t" style="transform:scaleX(0.922)">2</span></span></b></div>
<div class="tg" style="left:46px"><svg class="ic" viewBox="0 0 16 16" style="overflow:visible"><path d="M7.800-2c4.800 0 7.400 3.200 7.400 7.400 0 3.200.6 6 1.200 8.400H-.8C-.2 11.400.4 8.600.4 5.400.4 1.200 3-2 7.800-2z" fill="#f1b02f"/><ellipse cx="7.800" cy="7.400" rx="4.700" ry="5.500" fill="#fcd255"/><path d="M3 6.400c2.300-.4 4.600-1.800 5.600-3.900.8 1.800 2.200 3.200 4 3.800C12.600 2.600 10.700.5 7.800.5S3 2.700 3 6.400z" fill="#f1b02f"/><circle cx="6" cy="7.700" r=".65" fill="#4a2f1a"/><circle cx="9.700" cy="7.700" r=".65" fill="#4a2f1a"/><path d="M6.700 10.500q1.100.8 2.300 0" fill="none" stroke="#c0553a" stroke-width=".8" stroke-linecap="round"/><path d="M2 23.500l5.200-2.900 5.300 2.900z" fill="#111"/></svg><b><span class="w" style="width:7.95px"><span class="t" style="transform:scaleX(0.922)">3</span></span></b></div>
<div class="tg" style="left:92px"><svg class="ic" viewBox="0 0 16 16" style="overflow:visible"><circle cx="5.700" cy="9.800" r="6" fill="#d42f3c"/><circle cx="5.700" cy="9.800" r="4.300" fill="#fff"/><circle cx="5.700" cy="9.800" r="2.900" fill="#d42f3c"/><circle cx="5.700" cy="9.800" r="1.400" fill="#fff"/><path d="M5.700 9.800L12.600 3.200" stroke="#3a9d98" stroke-width="1.300" stroke-linecap="round"/><path d="M10.900 3l2.300-2 .4 1.800 1.800.4-2 2.300-2.300-.2z" fill="#4dbcb3"/></svg><b><span class="w" style="width:7.95px"><span class="t" style="transform:scaleX(0.922)">1</span></span></b></div>
</div>
</div>
<div class="c b" style="left:1384px;top:418px"><div class="nm"><span class="w" style="width:67.45px"><span class="t" style="transform:scaleX(1.078)">Kevin</span></span> <span class="w" style="width:97.73px"><span class="t" style="transform:scaleX(1.049)">Sanders</span></span></div><div class="tm"><span class="w" style="width:42.60px"><span class="t" style="transform:scaleX(0.995)">2:13</span></span> <span class="w" style="width:33.88px"><span class="t" style="transform:scaleX(1.109)">pm</span></span></div>
<svg class="st" viewBox="0 0 132 32"><polygon points="15.90,1.20 20.13,11.28 31.02,12.19 22.75,19.32 25.25,29.96 15.90,24.30 6.55,29.96 9.05,19.32 0.78,12.19 11.67,11.28" fill="#067eeb"/><polygon points="48.10,1.20 52.33,11.28 63.22,12.19 54.95,19.32 57.45,29.96 48.10,24.30 38.75,29.96 41.25,19.32 32.98,12.19 43.87,11.28" fill="#067eeb"/><polygon points="80.30,1.20 84.53,11.28 95.42,12.19 87.15,19.32 89.65,29.96 80.30,24.30 70.95,29.96 73.45,19.32 65.18,12.19 76.07,11.28" fill="#067eeb"/><polygon points="112.50,1.20 116.73,11.28 127.62,12.19 119.35,19.32 121.85,29.96 112.50,24.30 103.15,29.96 105.65,19.32 97.38,12.19 108.27,11.28" fill="#dfe3e9"/></svg>
<div class="tags">
<div class="tg" style="left:0px"><svg class="ic" viewBox="0 0 16 16"><path d="M.6 7.500h2.800v7.200H.6z" fill="#eea22b"/><path d="M6.200 7.200C7.400 5.600 7.600 3.600 7.600 2 7.600.5 9.700.3 10.300 2c.5 1.400.1 3.200-.4 4.400h4.200c1.400 0 1.600 1.800.6 2.300 1 .5.800 2.100-.2 2.400.7.600.4 1.900-.5 2.200.4.800-.2 1.900-1.300 1.900H7.600c-2 0-3-.8-4.400-1V7.800c1.200 0 2.200 0 3-.6z" fill="#fac53f"/><path d="M9.900 8.700h4.600M9.900 11.100h4.300M9.900 13.300h3.700" stroke="#eea22b" stroke-width=".6" stroke-linecap="round"/></svg><b><span class="w" style="width:7.95px"><span class="t" style="transform:scaleX(0.922)">2</span></span></b></div>
<div class="tg" style="left:46px"><svg class="ic" viewBox="0 0 16 16" style="overflow:visible"><path d="M7.800-2c4.800 0 7.400 3.200 7.400 7.400 0 3.200.6 6 1.200 8.400H-.8C-.2 11.400.4 8.600.4 5.400.4 1.200 3-2 7.800-2z" fill="#f1b02f"/><ellipse cx="7.800" cy="7.400" rx="4.700" ry="5.500" fill="#fcd255"/><path d="M3 6.400c2.300-.4 4.600-1.800 5.600-3.900.8 1.800 2.200 3.200 4 3.800C12.600 2.600 10.700.5 7.800.5S3 2.700 3 6.400z" fill="#f1b02f"/><circle cx="6" cy="7.700" r=".65" fill="#4a2f1a"/><circle cx="9.700" cy="7.700" r=".65" fill="#4a2f1a"/><path d="M6.700 10.500q1.100.8 2.300 0" fill="none" stroke="#c0553a" stroke-width=".8" stroke-linecap="round"/><path d="M2 23.500l5.200-2.900 5.300 2.900z" fill="#111"/></svg><b><span class="w" style="width:7.95px"><span class="t" style="transform:scaleX(0.922)">3</span></span></b></div>
<div class="tg" style="left:92px"><svg class="ic" viewBox="0 0 16 16" style="overflow:visible"><circle cx="5.700" cy="9.800" r="6" fill="#d42f3c"/><circle cx="5.700" cy="9.800" r="4.300" fill="#fff"/><circle cx="5.700" cy="9.800" r="2.900" fill="#d42f3c"/><circle cx="5.700" cy="9.800" r="1.400" fill="#fff"/><path d="M5.700 9.800L12.600 3.200" stroke="#3a9d98" stroke-width="1.300" stroke-linecap="round"/><path d="M10.900 3l2.300-2 .4 1.800 1.800.4-2 2.300-2.300-.2z" fill="#4dbcb3"/></svg><b><span class="w" style="width:7.95px"><span class="t" style="transform:scaleX(0.922)">1</span></span></b></div>
<div class="tg" style="left:138px"><svg class="ic" viewBox="0 0 16 16"><circle cx="10.600" cy="5.600" r="3" fill="#fff" stroke="#4fa9e2" stroke-width="1.100"/><path d="M9.400 9.700h2.400M9.700 10.900h1.800" stroke="#4fa9e2" stroke-width=".9" stroke-linecap="round"/><path d="M9.800 11.600h1.600l-.8 1.300z" fill="#4fa9e2"/></svg><b><span class="w" style="width:7.95px"><span class="t" style="transform:scaleX(0.922)">1</span></span></b></div>
</div>
</div>
<div class="c" style="left:1384px;top:586px"><div class="nm"><span class="w" style="width:53.34px"><span class="t" style="transform:scaleX(1.066)">Alan</span></span> <span class="w" style="width:73.31px"><span class="t" style="transform:scaleX(1.100)">Harris</span></span></div><div class="tm"><span class="w" style="width:12.18px"><span class="t" style="transform:scaleX(0.994)">4</span></span> <span class="w" style="width:47.62px"><span class="t" style="transform:scaleX(1.024)">days</span></span> <span class="w" style="width:37.61px"><span class="t" style="transform:scaleX(1.024)">ago</span></span></div>
</div>
<div class="c b" style="left:1800px;top:418px"><div class="nm"><span class="w" style="width:85.30px"><span class="t" style="transform:scaleX(1.116)">Jordan</span></span> <span class="w" style="width:81.55px"><span class="t" style="transform:scaleX(1.048)">Adams</span></span></div><div class="tm"><span class="w" style="width:42.60px"><span class="t" style="transform:scaleX(0.995)">2:13</span></span> <span class="w" style="width:33.88px"><span class="t" style="transform:scaleX(1.109)">pm</span></span></div>
<svg class="st" viewBox="0 0 132 32"><polygon points="15.90,1.20 20.13,11.28 31.02,12.19 22.75,19.32 25.25,29.96 15.90,24.30 6.55,29.96 9.05,19.32 0.78,12.19 11.67,11.28" fill="#067eeb"/><polygon points="48.10,1.20 52.33,11.28 63.22,12.19 54.95,19.32 57.45,29.96 48.10,24.30 38.75,29.96 41.25,19.32 32.98,12.19 43.87,11.28" fill="#067eeb"/><polygon points="80.30,1.20 84.53,11.28 95.42,12.19 87.15,19.32 89.65,29.96 80.30,24.30 70.95,29.96 73.45,19.32 65.18,12.19 76.07,11.28" fill="#067eeb"/><polygon points="112.50,1.20 116.73,11.28 127.62,12.19 119.35,19.32 121.85,29.96 112.50,24.30 103.15,29.96 105.65,19.32 97.38,12.19 108.27,11.28" fill="#067eeb"/></svg>
<div class="tags">
<div class="tg" style="left:0px"><svg class="ic" viewBox="0 0 16 16"><path d="M7.600.5l4.400 4.500H9.500v3.200H5.700V5H3.200z" fill="#0b0b0b"/><text x="7.600" y="15" text-anchor="middle" font-family="Liberation Sans, sans-serif" font-weight="bold" font-size="6.400" fill="#0b0b0b" textLength="11.400" lengthAdjust="spacingAndGlyphs">TOP</text></svg><b><span class="w" style="width:7.95px"><span class="t" style="transform:scaleX(0.922)">1</span></span></b></div>
<div class="tg" style="left:46px"><svg class="ic" viewBox="0 0 16 16" style="overflow:visible"><path d="M7.800-2c4.800 0 7.400 3.200 7.400 7.400 0 3.200.6 6 1.200 8.400H-.8C-.2 11.400.4 8.600.4 5.400.4 1.200 3-2 7.800-2z" fill="#f1b02f"/><ellipse cx="7.800" cy="7.400" rx="4.700" ry="5.500" fill="#fcd255"/><path d="M3 6.400c2.300-.4 4.600-1.800 5.600-3.900.8 1.800 2.200 3.200 4 3.800C12.600 2.600 10.700.5 7.800.5S3 2.700 3 6.400z" fill="#f1b02f"/><circle cx="6" cy="7.700" r=".65" fill="#4a2f1a"/><circle cx="9.700" cy="7.700" r=".65" fill="#4a2f1a"/><path d="M6.700 10.500q1.100.8 2.300 0" fill="none" stroke="#c0553a" stroke-width=".8" stroke-linecap="round"/><path d="M2 23.500l5.200-2.900 5.300 2.900z" fill="#111"/></svg><b><span class="w" style="width:7.95px"><span class="t" style="transform:scaleX(0.922)">3</span></span></b></div>
<div class="tg" style="left:92px"><svg class="ic" viewBox="0 0 16 16" style="overflow:visible"><circle cx="5.700" cy="9.800" r="6" fill="#d42f3c"/><circle cx="5.700" cy="9.800" r="4.300" fill="#fff"/><circle cx="5.700" cy="9.800" r="2.900" fill="#d42f3c"/><circle cx="5.700" cy="9.800" r="1.400" fill="#fff"/><path d="M5.700 9.800L12.600 3.200" stroke="#3a9d98" stroke-width="1.300" stroke-linecap="round"/><path d="M10.900 3l2.300-2 .4 1.800 1.800.4-2 2.300-2.300-.2z" fill="#4dbcb3"/></svg><b><span class="w" style="width:7.95px"><span class="t" style="transform:scaleX(0.922)">1</span></span></b></div>
</div>
</div>
<div class="c" style="left:2216px;top:418px"><div class="nm"><span class="w" style="width:115.94px"><span class="t" style="transform:scaleX(1.069)">Lawrence</span></span> <span class="w" style="width:71.94px"><span class="t" style="transform:scaleX(1.126)">Smith</span></span></div><div class="tm"><span class="w" style="width:42.60px"><span class="t" style="transform:scaleX(1.034)">9:11</span></span> <span class="w" style="width:32.64px"><span class="t" style="transform:scaleX(1.068)">am</span></span></div>
</div>
<div class="c" style="left:2216px;top:498px"><div class="nm"><span class="w" style="width:115.17px"><span class="t" style="transform:scaleX(1.076)">Raymond</span></span> <span class="w" style="width:86.22px"><span class="t" style="transform:scaleX(1.108)">Garrett</span></span></div><div class="tm"><span class="w" style="width:42.60px"><span class="t" style="transform:scaleX(1.034)">9:11</span></span> <span class="w" style="width:32.64px"><span class="t" style="transform:scaleX(1.068)">am</span></span></div>
</div>
<div class="c" style="left:2216px;top:578px"><div class="nm"><span class="w" style="width:90.06px"><span class="t" style="transform:scaleX(1.117)">Johnny</span></span> <span class="w" style="width:88.83px"><span class="t" style="transform:scaleX(1.065)">Daniels</span></span></div><div class="tm"><span class="w" style="width:42.60px"><span class="t" style="transform:scaleX(0.995)">1:15</span></span> <span class="w" style="width:33.88px"><span class="t" style="transform:scaleX(1.109)">pm</span></span></div>
</div>
<div class="c" style="left:2216px;top:658px"><div class="nm"><span class="w" style="width:83.95px"><span class="t" style="transform:scaleX(1.079)">Crystal</span></span> <span class="w" style="width:71.09px"><span class="t" style="transform:scaleX(1.045)">Myers</span></span></div><div class="tm"><span class="w" style="width:42.60px"><span class="t" style="transform:scaleX(0.995)">2:40</span></span> <span class="w" style="width:33.88px"><span class="t" style="transform:scaleX(1.109)">pm</span></span></div>
</div>
<div class="c" style="left:2216px;top:738px"><div class="nm"><span class="w" style="width:97.11px"><span class="t" style="transform:scaleX(1.059)">Douglas</span></span> <span class="w" style="width:83.06px"><span class="t" style="transform:scaleX(1.031)">Gomez</span></span></div><div class="tm"><span class="w" style="width:12.18px"><span class="t" style="transform:scaleX(0.994)">3</span></span> <span class="w" style="width:47.62px"><span class="t" style="transform:scaleX(1.024)">days</span></span> <span class="w" style="width:37.61px"><span class="t" style="transform:scaleX(1.024)">ago</span></span></div>
</div>
<div class="c b" style="left:2216px;top:818px"><div class="nm"><span class="w" style="width:70.42px"><span class="t" style="transform:scaleX(1.034)">Roger</span></span> <span class="w" style="width:70.91px"><span class="t" style="transform:scaleX(1.086)">Burke</span></span></div><div class="tm"><span class="w" style="width:12.18px"><span class="t" style="transform:scaleX(0.994)">5</span></span> <span class="w" style="width:47.62px"><span class="t" style="transform:scaleX(1.024)">days</span></span> <span class="w" style="width:37.61px"><span class="t" style="transform:scaleX(1.024)">ago</span></span></div>
<svg class="st" viewBox="0 0 132 32"><polygon points="15.90,1.20 20.13,11.28 31.02,12.19 22.75,19.32 25.25,29.96 15.90,24.30 6.55,29.96 9.05,19.32 0.78,12.19 11.67,11.28" fill="#067eeb"/><polygon points="48.10,1.20 52.33,11.28 63.22,12.19 54.95,19.32 57.45,29.96 48.10,24.30 38.75,29.96 41.25,19.32 32.98,12.19 43.87,11.28" fill="#067eeb"/><polygon points="80.30,1.20 84.53,11.28 95.42,12.19 87.15,19.32 89.65,29.96 80.30,24.30 70.95,29.96 73.45,19.32 65.18,12.19 76.07,11.28" fill="#067eeb"/><polygon points="112.50,1.20 116.73,11.28 127.62,12.19 119.35,19.32 121.85,29.96 112.50,24.30 103.15,29.96 105.65,19.32 97.38,12.19 108.27,11.28" fill="#dfe3e9"/></svg>
<div class="tags">
<div class="tg" style="left:0px"><svg class="ic" viewBox="0 0 16 16"><path d="M.6 7.500h2.800v7.200H.6z" fill="#eea22b"/><path d="M6.200 7.200C7.400 5.600 7.600 3.600 7.600 2 7.600.5 9.700.3 10.300 2c.5 1.400.1 3.200-.4 4.400h4.200c1.400 0 1.600 1.800.6 2.300 1 .5.800 2.100-.2 2.400.7.600.4 1.900-.5 2.200.4.800-.2 1.900-1.300 1.900H7.600c-2 0-3-.8-4.400-1V7.800c1.200 0 2.200 0 3-.6z" fill="#fac53f"/><path d="M9.900 8.700h4.600M9.900 11.100h4.300M9.900 13.300h3.700" stroke="#eea22b" stroke-width=".6" stroke-linecap="round"/></svg><b><span class="w" style="width:7.95px"><span class="t" style="transform:scaleX(0.922)">2</span></span></b></div>
<div class="tg" style="left:46px"><svg class="ic" viewBox="0 0 16 16" style="overflow:visible"><path d="M7.800-2c4.800 0 7.400 3.200 7.400 7.400 0 3.200.6 6 1.200 8.400H-.8C-.2 11.400.4 8.600.4 5.400.4 1.200 3-2 7.800-2z" fill="#f1b02f"/><ellipse cx="7.800" cy="7.400" rx="4.700" ry="5.500" fill="#fcd255"/><path d="M3 6.400c2.300-.4 4.600-1.800 5.600-3.900.8 1.800 2.200 3.200 4 3.800C12.600 2.600 10.700.5 7.800.5S3 2.700 3 6.400z" fill="#f1b02f"/><circle cx="6" cy="7.700" r=".65" fill="#4a2f1a"/><circle cx="9.700" cy="7.700" r=".65" fill="#4a2f1a"/><path d="M6.700 10.500q1.100.8 2.300 0" fill="none" stroke="#c0553a" stroke-width=".8" stroke-linecap="round"/><path d="M2 23.500l5.200-2.900 5.300 2.900z" fill="#111"/></svg><b><span class="w" style="width:7.95px"><span class="t" style="transform:scaleX(0.922)">3</span></span></b></div>
<div class="tg" style="left:92px"><svg class="ic" viewBox="0 0 16 16" style="overflow:visible"><circle cx="5.700" cy="9.800" r="6" fill="#d42f3c"/><circle cx="5.700" cy="9.800" r="4.300" fill="#fff"/><circle cx="5.700" cy="9.800" r="2.900" fill="#d42f3c"/><circle cx="5.700" cy="9.800" r="1.400" fill="#fff"/><path d="M5.700 9.800L12.600 3.200" stroke="#3a9d98" stroke-width="1.300" stroke-linecap="round"/><path d="M10.900 3l2.300-2 .4 1.800 1.800.4-2 2.300-2.300-.2z" fill="#4dbcb3"/></svg><b><span class="w" style="width:7.95px"><span class="t" style="transform:scaleX(0.922)">1</span></span></b></div>
<div class="tg" style="left:138px"><svg class="ic" viewBox="0 0 16 16" style="overflow:visible"><path d="M7.500.6l1 3.300 2.900-2-1 3.300 3.600-.5-2.600 2.500L15.300 8.400l-3.500 1.100 2.100 3-3.400-1 .2 3.600-2.700-2.500-2.700 2.500.2-3.600-3.400 1 2.100-3L-.7 8.400l3.900-1.200L.6 4.700l3.600.5-1-3.300 2.900 2z" fill="#fdeeb5"/><path d="M7.500 3.300l1.600 3.300 3.600.5-2.600 2.500.6 3.600-3.200-1.700-3.200 1.700.6-3.600L2.300 7.100l3.600-.5z" fill="#f8c534"/><path d="M6.700 13.600h1.600l-.8 1.800z" fill="#f3b63a"/></svg><b><span class="w" style="width:7.95px"><span class="t" style="transform:scaleX(0.922)">1</span></span></b></div>
</div>
</div>
<div class="c" style="left:2216px;top:986px"><div class="nm"><span class="w" style="width:60.59px"><span class="t" style="transform:scaleX(1.118)">Tyler</span></span> <span class="w" style="width:57.94px"><span class="t" style="transform:scaleX(1.069)">Silva</span></span></div><div class="tm"><span class="w" style="width:42.60px"><span class="t" style="transform:scaleX(1.034)">9:11</span></span> <span class="w" style="width:32.64px"><span class="t" style="transform:scaleX(1.068)">am</span></span></div>
</div>
<div class="c" style="left:2216px;top:1066px"><div class="nm"><span class="w" style="width:96.89px"><span class="t" style="transform:scaleX(1.124)">Kathryn</span></span> <span class="w" style="width:91.41px"><span class="t" style="transform:scaleX(1.079)">Holmes</span></span></div><div class="tm"><span class="w" style="width:42.60px"><span class="t" style="transform:scaleX(0.995)">1:05</span></span> <span class="w" style="width:33.88px"><span class="t" style="transform:scaleX(1.109)">pm</span></span></div>
</div>
<div class="c" style="left:2216px;top:1146px"><div class="nm"><span class="w" style="width:73.03px"><span class="t" style="transform:scaleX(1.030)">Susan</span></span> <span class="w" style="width:88.97px"><span class="t" style="transform:scaleX(1.061)">Watson</span></span></div><div class="tm"><span class="w" style="width:12.18px"><span class="t" style="transform:scaleX(0.994)">3</span></span> <span class="w" style="width:47.62px"><span class="t" style="transform:scaleX(1.024)">days</span></span> <span class="w" style="width:37.61px"><span class="t" style="transform:scaleX(1.024)">ago</span></span></div>
</div>
<div class="c" style="left:2216px;top:1226px"><div class="nm"><span class="w" style="width:59.53px"><span class="t" style="transform:scaleX(1.098)">Juan</span></span> <span class="w" style="width:110.84px"><span class="t" style="transform:scaleX(1.063)">Reynolds</span></span></div><div class="tm"><span class="w" style="width:12.18px"><span class="t" style="transform:scaleX(0.994)">3</span></span> <span class="w" style="width:47.62px"><span class="t" style="transform:scaleX(1.024)">days</span></span> <span class="w" style="width:37.61px"><span class="t" style="transform:scaleX(1.024)">ago</span></span></div>
</div>
<div class="c" style="left:2216px;top:1306px"><div class="nm"><span class="w" style="width:88.58px"><span class="t" style="transform:scaleX(1.045)">Melissa</span></span> <span class="w" style="width:154.03px"><span class="t" style="transform:scaleX(1.087)">Cunningham</span></span></div><div class="tm"><span class="w" style="width:42.60px"><span class="t" style="transform:scaleX(0.995)">7:34</span></span> <span class="w" style="width:32.64px"><span class="t" style="transform:scaleX(1.068)">am</span></span></div>
</div>
<div class="c" style="left:2216px;top:1386px"><div class="nm"><span class="w" style="width:90.31px"><span class="t" style="transform:scaleX(1.121)">William</span></span> <span class="w" style="width:81.03px"><span class="t" style="transform:scaleX(1.100)">Powell</span></span></div><div class="tm"><span class="w" style="width:42.60px"><span class="t" style="transform:scaleX(0.995)">3:42</span></span> <span class="w" style="width:33.88px"><span class="t" style="transform:scaleX(1.109)">pm</span></span></div>
</div>
<div class="c" style="left:2216px;top:1466px"><div class="nm"><span class="w" style="width:103.41px"><span class="t" style="transform:scaleX(1.094)">Brandon</span></span> <span class="w" style="width:73.67px"><span class="t" style="transform:scaleX(1.061)">Flores</span></span></div><div class="tm"><span class="w" style="width:42.60px"><span class="t" style="transform:scaleX(0.995)">3:42</span></span> <span class="w" style="width:33.88px"><span class="t" style="transform:scaleX(1.109)">pm</span></span></div>
</div>
<div class="c" style="left:2216px;top:1546px"><div class="nm"><span class="w" style="width:45.38px"><span class="t" style="transform:scaleX(1.020)">Roy</span></span> <span class="w" style="width:81.42px"><span class="t" style="transform:scaleX(1.065)">Ortega</span></span></div><div class="tm"><span class="w" style="width:42.60px"><span class="t" style="transform:scaleX(0.995)">8:02</span></span> <span class="w" style="width:32.64px"><span class="t" style="transform:scaleX(1.068)">am</span></span></div>
</div>
<div class="c" style="left:2216px;top:1626px"><div class="nm"><span class="w" style="width:75.44px"><span class="t" style="transform:scaleX(1.064)">Nancy</span></span> <span class="w" style="width:78.72px"><span class="t" style="transform:scaleX(1.111)">Brown</span></span></div><div class="tm"><span class="w" style="width:12.18px"><span class="t" style="transform:scaleX(0.994)">3</span></span> <span class="w" style="width:47.62px"><span class="t" style="transform:scaleX(1.024)">days</span></span> <span class="w" style="width:37.61px"><span class="t" style="transform:scaleX(1.024)">ago</span></span></div>
</div>
</div></body></html>
